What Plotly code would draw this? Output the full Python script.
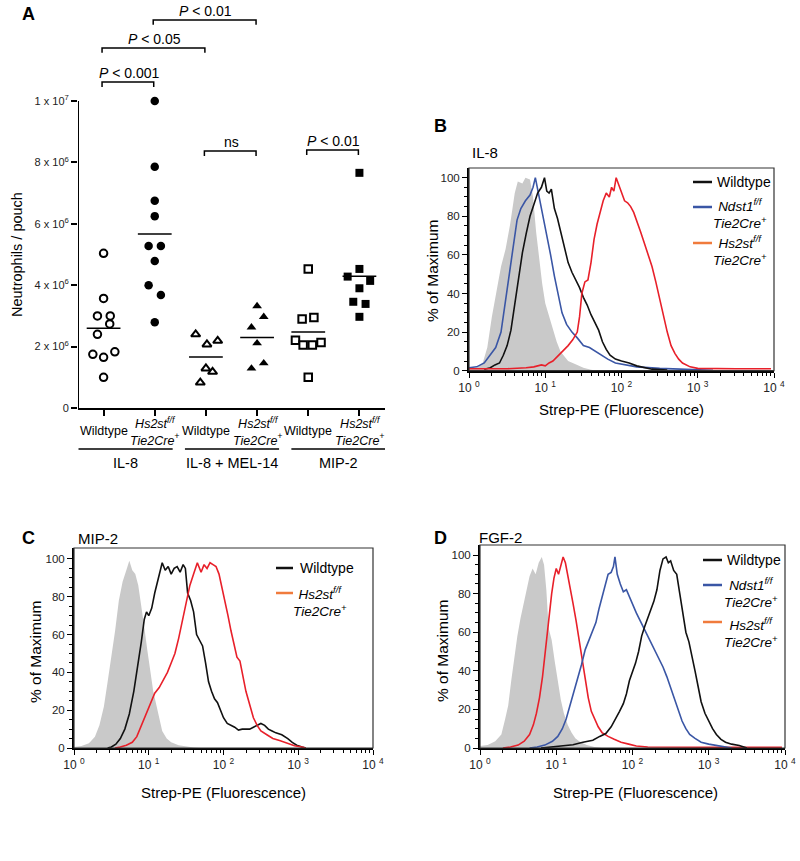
import numpy as np
import plotly.graph_objects as go

W, H = 800, 861
def px(x):
    return x / W
def py(y):
    return 1 - y / H

FONT = "Liberation Sans, Arial, sans-serif"

# ---------------- Panel A data ----------------
CAT_POS = [0, 1, 2, 3, 4, 5]
HS2_LABEL = "<i>Hs2st<sup>f/f</sup></i><br><i>Tie2Cre<sup>+</sup></i>"
CAT_LABELS = ["Wildtype", HS2_LABEL, "Wildtype", HS2_LABEL, "Wildtype", HS2_LABEL]
GROUP_LABELS = ["IL-8", "IL-8 + MEL-14", "MIP-2"]
Y_TICK_VALS = [0, 2e6, 4e6, 6e6, 8e6, 1e7]
Y_TICK_TEXT = ["0", "2 x 10<sup>6</sup>", "4 x 10<sup>6</sup>", "6 x 10<sup>6</sup>",
               "8 x 10<sup>6</sup>", "1 x 10<sup>7</sup>"]

IL8_WT = [5.04e6, 3.57e6, 3.0e6, 3.0e6, 2.74e6, 2.40e6, 1.75e6, 1.65e6, 1.83e6, 1.0e6]
IL8_WT_JIT = [0, 0, -0.12, 0.13, 0.12, -0.12, -0.21, 0, 0.22, 0]
IL8_HS2 = [10.0e6, 7.86e6, 6.75e6, 6.25e6, 5.28e6, 5.28e6, 4.79e6, 4.0e6, 3.68e6, 2.79e6]
IL8_HS2_JIT = [0, 0, 0, 0, -0.12, 0.12, 0, -0.12, 0.12, 0]
MEL_WT = [2.40e6, 2.07e6, 2.19e6, 1.29e6, 1.18e6, 0.83e6]
MEL_WT_JIT = [-0.2, 0.02, 0.23, 0, 0.13, -0.11]
MEL_HS2 = [3.32e6, 2.97e6, 2.63e6, 2.11e6, 1.46e6, 1.29e6]
MEL_HS2_JIT = [0, 0.13, -0.11, 0, 0.13, -0.11]
MIP_WT = [4.53e6, 2.90e6, 2.95e6, 2.21e6, 2.05e6, 2.05e6, 2.13e6, 1.0e6]
MIP_WT_JIT = [0, -0.12, 0.11, -0.25, -0.1, 0.08, 0.25, 0]
MIP_HS2 = [7.66e6, 4.53e6, 4.28e6, 4.14e6, 3.90e6, 3.46e6, 3.39e6, 2.97e6]
MIP_HS2_JIT = [0, 0, -0.23, 0.21, 0, -0.12, 0.12, 0]

# comparisons: (from category, to category, bracket level, label)
BRACKETS = [
    (0, 1, 1.062e7, "<i>P</i> &lt; 0.001"),
    (0, 2, 1.173e7, "<i>P</i> &lt; 0.05"),
    (1, 3, 1.264e7, "<i>P</i> &lt; 0.01"),
    (2, 3, 8.37e6, "ns"),
    (4, 5, 8.40e6, "<i>P</i> &lt; 0.01"),
]

# ---------------- Histogram data (log10 fluorescence, % of max) ----------------
B_GRAY_LX = [0.00, 0.10, 0.18, 0.24, 0.30, 0.36, 0.42, 0.48, 0.54, 0.60, 0.64, 0.70, 0.74, 0.80, 0.84,
             0.88, 0.92, 0.96, 1.00, 1.05, 1.10, 1.15, 1.20, 1.30, 1.42, 1.50, 1.60, 1.70]
B_GRAY_Y = [1, 1.5, 4, 12, 28, 42, 54, 63, 76, 92, 98, 97, 100, 99, 90,
            72, 57, 45, 35, 28, 22, 15, 10, 5, 3, 1.5, 0.5, 0]
B_BLUE_LX = [0.00, 0.10, 0.20, 0.28, 0.35, 0.42, 0.48, 0.53, 0.58, 0.63, 0.68, 0.74, 0.80, 0.84, 0.87,
             0.90, 0.94, 0.98, 1.02, 1.07, 1.12, 1.17, 1.22, 1.28, 1.35, 1.42, 1.50, 1.58, 1.66, 1.74,
             1.82, 1.92, 2.05, 2.20, 2.50, 2.80, 3.00, 3.20]
B_BLUE_Y = [1.5, 2, 4, 8, 12, 20, 36, 50, 64, 78, 84, 88, 91, 95, 100,
            94, 86, 80, 70, 60, 49, 39, 30, 24, 20, 17, 13, 12, 10, 8,
            6, 4, 3, 2, 1.2, 0.8, 0.3, 0.2]
B_BLACK_LX = [0.20, 0.28, 0.34, 0.40, 0.45, 0.50, 0.55, 0.60, 0.65, 0.70, 0.75, 0.80, 0.85, 0.90, 0.95,
              0.99, 1.02, 1.05, 1.08, 1.12, 1.16, 1.20, 1.25, 1.30, 1.35, 1.40, 1.45, 1.50, 1.55, 1.60,
              1.65, 1.70, 1.75, 1.80, 1.85, 1.92, 2.00, 2.10, 2.20, 2.30, 2.40, 2.60]
B_BLACK_Y = [0.8, 1.5, 3, 4, 8, 13, 21, 35, 49, 61, 71, 80, 86, 92, 95,
             100, 93, 92, 94, 84, 79, 72, 64, 56, 51, 47, 43, 38, 34, 29,
             25, 21, 15, 11, 8, 6, 5, 4, 2.5, 1.5, 0.8, 0.3]
B_RED_LX = [0.00, 0.50, 0.75, 0.85, 0.95, 1.00, 1.05, 1.10, 1.20, 1.30, 1.36, 1.42, 1.45, 1.48, 1.52,
            1.56, 1.60, 1.64, 1.68, 1.72, 1.76, 1.80, 1.84, 1.87, 1.90, 1.93, 1.96, 2.00, 2.04, 2.08,
            2.12, 2.16, 2.20, 2.25, 2.30, 2.35, 2.40, 2.45, 2.50, 2.55, 2.60, 2.65, 2.70, 2.75, 2.80,
            2.90, 3.00, 3.50, 3.96]
B_RED_Y = [1, 1, 1.5, 2, 3, 2.5, 4, 5, 9, 13, 16, 20, 28, 40, 46,
           47, 56, 68, 76, 82, 88, 92, 90, 95, 93, 100, 97, 92, 88, 87,
           85, 82, 78, 72, 66, 60, 54, 46, 37, 28, 20, 13, 9, 6, 4,
           2, 1.2, 1, 1]

C_GRAY_LX = [0.00, 0.10, 0.20, 0.28, 0.34, 0.40, 0.45, 0.50, 0.55, 0.60, 0.65, 0.70, 0.74, 0.78, 0.82,
             0.86, 0.90, 0.94, 0.98, 1.02, 1.06, 1.10, 1.14, 1.18, 1.24, 1.30, 1.40, 1.50, 1.60, 1.70]
C_GRAY_Y = [0.5, 1, 2.5, 6, 12, 22, 35, 48, 62, 78, 88, 94, 99, 94, 92,
            86, 76, 64, 52, 40, 30, 23, 15, 9, 5, 3, 1.5, 0.8, 0.3, 0]
C_BLACK_LX = [0.45, 0.50, 0.56, 0.62, 0.68, 0.74, 0.80, 0.85, 0.90, 0.94, 0.97, 1.00, 1.04, 1.08, 1.12,
              1.15, 1.18, 1.22, 1.26, 1.30, 1.34, 1.38, 1.42, 1.46, 1.49, 1.52, 1.56, 1.60, 1.64, 1.68,
              1.72, 1.76, 1.80, 1.84, 1.88, 1.92, 1.96, 2.00, 2.05, 2.10, 2.15, 2.20, 2.25, 2.30, 2.35,
              2.40, 2.45, 2.50, 2.55, 2.60, 2.65, 2.70, 2.78, 2.86, 2.92, 2.98, 3.05, 3.10]
C_BLACK_Y = [0, 0.5, 2, 5, 10, 18, 30, 42, 56, 68, 72, 70, 74, 82, 88,
             94, 98, 94, 96, 92, 95, 96, 93, 97, 95, 82, 78, 72, 60, 57,
             54, 45, 35, 30, 26, 24, 20, 16, 13, 12, 11, 9.5, 10, 10, 10,
             11, 12, 13, 12, 10, 9, 8, 7, 5, 3, 1.5, 0.5, 0]
C_RED_LX = [0.55, 0.62, 0.70, 0.78, 0.84, 0.90, 0.96, 1.02, 1.08, 1.14, 1.20, 1.25, 1.30, 1.35, 1.40,
            1.45, 1.50, 1.55, 1.60, 1.65, 1.70, 1.74, 1.78, 1.82, 1.86, 1.90, 1.94, 1.98, 2.02, 2.06,
            2.10, 2.14, 2.18, 2.22, 2.26, 2.30, 2.35, 2.40, 2.45, 2.50, 2.58, 2.66, 2.75, 2.85, 2.95,
            3.05, 3.10]
C_RED_Y = [0, 0.5, 1.5, 3, 6, 12, 18, 24, 29, 32, 36, 40, 45, 50, 58,
           68, 78, 86, 92, 98, 93, 97, 95, 98, 97, 96, 92, 85, 78, 70,
           62, 55, 48, 46, 38, 30, 23, 16, 12, 9, 7, 5, 4, 2.5, 1.2,
           0.5, 0]

D_GRAY_LX = [0.00, 0.10, 0.20, 0.28, 0.33, 0.37, 0.41, 0.45, 0.49, 0.53, 0.57, 0.61, 0.65, 0.69, 0.73,
             0.77, 0.81, 0.84, 0.87, 0.90, 0.94, 0.98, 1.02, 1.06, 1.10, 1.15, 1.20, 1.25, 1.30, 1.40,
             1.50, 1.60]
D_GRAY_Y = [1, 1.5, 3.5, 7, 15, 22, 35, 48, 58, 67, 75, 83, 89, 93, 90,
            96, 99, 95, 82, 62, 56, 45, 34, 25, 18, 12, 8, 5, 3.5, 1.5,
            0.5, 0]
D_RED_LX = [0.30, 0.40, 0.50, 0.58, 0.65, 0.70, 0.74, 0.78, 0.82, 0.86, 0.90, 0.94, 0.97, 1.00, 1.03,
            1.06, 1.09, 1.12, 1.15, 1.18, 1.22, 1.26, 1.30, 1.34, 1.38, 1.42, 1.46, 1.50, 1.55, 1.60,
            1.68, 1.76, 1.85, 1.95, 2.05, 2.20, 3.96]
D_RED_Y = [0, 0.5, 1.5, 3.5, 7, 12, 18, 26, 37, 52, 66, 80, 88, 93, 90,
           95, 99, 96, 90, 84, 75, 66, 56, 45, 34, 26, 19, 15, 11, 8,
           6, 4.5, 3, 2, 1, 0.5, 0.3]
D_BLUE_LX = [0.65, 0.75, 0.85, 0.95, 1.02, 1.08, 1.13, 1.18, 1.23, 1.28, 1.33, 1.38, 1.43, 1.48, 1.52,
             1.56, 1.60, 1.64, 1.68, 1.72, 1.75, 1.77, 1.80, 1.84, 1.88, 1.92, 1.96, 2.00, 2.05, 2.10,
             2.15, 2.20, 2.25, 2.30, 2.35, 2.40, 2.45, 2.50, 2.55, 2.60, 2.65, 2.70, 2.75, 2.82, 2.90,
             3.00, 3.10, 3.20, 3.30]
D_BLUE_Y = [0, 0.5, 1.5, 3.5, 6, 10, 15, 22, 29, 35, 43, 51, 56, 60, 65,
            72, 78, 85, 90, 91, 94, 99, 90, 85, 81, 82, 78, 74, 70, 66,
            62, 58, 54, 50, 46, 42, 37, 31, 25, 19, 14, 10, 7, 5, 3,
            2, 1.2, 0.5, 0]
D_BLACK_LX = [0.80, 0.95, 1.10, 1.22, 1.35, 1.48, 1.57, 1.65, 1.72, 1.78, 1.83, 1.88, 1.92, 1.96, 2.00,
              2.04, 2.08, 2.12, 2.16, 2.20, 2.24, 2.28, 2.32, 2.36, 2.40, 2.44, 2.47, 2.50, 2.54, 2.58,
              2.62, 2.66, 2.70, 2.74, 2.78, 2.82, 2.86, 2.90, 2.95, 3.00, 3.05, 3.10, 3.16, 3.22, 3.30,
              3.40, 3.45, 3.50]
D_BLACK_Y = [0, 0.5, 1, 1.7, 3, 4, 6, 7.5, 11, 15, 19, 23, 28, 35, 39,
             44, 50, 58, 63, 67, 72, 76, 82, 92, 98, 99, 96, 97, 92, 90,
             80, 71, 60, 55, 48, 40, 32, 24, 18, 14, 10, 7, 4.5, 3, 2,
             1.3, 0.5, 0]

LOG_TICKS = [0, 1, 2, 3, 4]
PCT_TICKS = [0, 20, 40, 60, 80, 100]

BLACK = "#111111"
BLUE = "#3a56a5"
RED = "#e8202a"
ORANGE = "#f07b3c"
GRAY = "#c9c9c9"

fig = go.Figure()

# ---------------- Panel A ----------------
series_A = [
    (0, IL8_WT, IL8_WT_JIT, "circle", False),
    (1, IL8_HS2, IL8_HS2_JIT, "circle", True),
    (2, MEL_WT, MEL_WT_JIT, "triangle-up", False),
    (3, MEL_HS2, MEL_HS2_JIT, "triangle-up", True),
    (4, MIP_WT, MIP_WT_JIT, "square", False),
    (5, MIP_HS2, MIP_HS2_JIT, "square", True),
]
for cat, vals, jit, sym, filled in series_A:
    xs = [CAT_POS[cat] + j for j in jit]
    if filled:
        marker = dict(symbol=sym, size=8.5 if sym != "square" else 8, color="black",
                      line=dict(width=0))
    else:
        marker = dict(symbol=sym, size=7.5 if sym != "triangle-up" else 8, color="white",
                      line=dict(width=2, color="black"))
    fig.add_trace(go.Scatter(x=xs, y=vals, mode="markers", marker=marker,
                             xaxis="x", yaxis="y", showlegend=False, hoverinfo="skip"))
    m = float(np.mean(vals))
    fig.add_trace(go.Scatter(x=[CAT_POS[cat] - 0.33, CAT_POS[cat] + 0.33], y=[m, m],
                             mode="lines", line=dict(color="black", width=1.6),
                             xaxis="x", yaxis="y", showlegend=False, hoverinfo="skip"))

shapes = []
annotations = []

# y axis line of panel A (0 .. 1e7 only)
shapes.append(dict(type="line", xref="x", yref="y", x0=-0.5, x1=-0.5, y0=0, y1=Y_TICK_VALS[-1],
                   line=dict(color="black", width=2)))

# brackets
drop = 1.6e5
for a, b, lvl, lab in BRACKETS:
    shapes.append(dict(type="path", xref="x", yref="y",
                       path=f"M {CAT_POS[a]-0.03},{lvl-drop} L {CAT_POS[a]-0.03},{lvl} "
                            f"L {CAT_POS[b]-0.02},{lvl} L {CAT_POS[b]-0.02},{lvl-drop}",
                       line=dict(color="black", width=1.5)))
    annotations.append(dict(x=(CAT_POS[a] + CAT_POS[b]) / 2, y=lvl, xref="x", yref="y",
                            text=lab, showarrow=False, yanchor="bottom", yshift=-1,
                            font=dict(size=14, color="black", family=FONT)))

# category labels
for c, lab in zip(CAT_POS, CAT_LABELS):
    annotations.append(dict(x=c, y=py(431), xref="x", yref="paper", text=lab, showarrow=False,
                            xanchor="center", yanchor="middle",
                            font=dict(size=12.5, color="black", family=FONT)))

# group lines and labels
for i, g in enumerate(GROUP_LABELS):
    x0 = CAT_POS[2 * i] - 0.49 + 0.08 * i
    x1 = x0 + 1.84
    shapes.append(dict(type="line", xref="x", yref="paper", x0=x0, x1=x1, y0=py(449), y1=py(449),
                       line=dict(color="black", width=1.5)))
    annotations.append(dict(x=(x0 + x1) / 2, y=py(463), xref="x", yref="paper", text=g,
                            showarrow=False, xanchor="center", yanchor="middle",
                            font=dict(size=14.5, color="black", family=FONT)))

annotations.append(dict(x=px(17), y=py(255), xref="paper", yref="paper", text="Neutrophils / pouch",
                        textangle=-90, showarrow=False, xanchor="center", yanchor="middle",
                        font=dict(size=14.5, color="black", family=FONT)))

# ---------------- Histogram panels ----------------
def add_curve(lx, yv, color, ax, fill=False):
    xv = [10 ** v for v in lx]
    if fill:
        fig.add_trace(go.Scatter(x=xv, y=yv, mode="lines", fill="tozeroy", fillcolor=GRAY,
                                 line=dict(width=0, color=GRAY), xaxis=f"x{ax}", yaxis=f"y{ax}",
                                 showlegend=False, hoverinfo="skip"))
    else:
        fig.add_trace(go.Scatter(x=xv, y=yv, mode="lines", line=dict(width=1.6, color=color),
                                 xaxis=f"x{ax}", yaxis=f"y{ax}", showlegend=False, hoverinfo="skip"))

add_curve(B_GRAY_LX, B_GRAY_Y, GRAY, 2, fill=True)
add_curve(B_BLUE_LX, B_BLUE_Y, BLUE, 2)
add_curve(B_BLACK_LX, B_BLACK_Y, BLACK, 2)
add_curve(B_RED_LX, B_RED_Y, RED, 2)

add_curve(C_GRAY_LX, C_GRAY_Y, GRAY, 3, fill=True)
add_curve(C_BLACK_LX, C_BLACK_Y, BLACK, 3)
add_curve(C_RED_LX, C_RED_Y, RED, 3)

add_curve(D_GRAY_LX, D_GRAY_Y, GRAY, 4, fill=True)
add_curve(D_RED_LX, D_RED_Y, RED, 4)
add_curve(D_BLUE_LX, D_BLUE_Y, BLUE, 4)
add_curve(D_BLACK_LX, D_BLACK_Y, BLACK, 4)

minor_x = [k * 10 ** d for d in range(4) for k in range(2, 10)]
minor_y = [v for v in range(5, 101, 5) if v % 20 != 0]

def hist_xaxis(dom, anchor):
    return dict(domain=dom, anchor=anchor, type="log", range=[0, 4], automargin=False,
                tickmode="array", tickvals=[10 ** v for v in LOG_TICKS],
                ticktext=[f"10 <sup>{v}</sup>" for v in LOG_TICKS],
                ticks="outside", ticklen=5, tickwidth=1.3, tickcolor="black",
                tickfont=dict(size=12, color="#222", family=FONT),
                minor=dict(tickmode="array", tickvals=minor_x, ticks="outside", ticklen=3,
                           tickwidth=1, tickcolor="black", showgrid=False),
                showline=True, linewidth=2, linecolor="black", showgrid=False, zeroline=False)

def hist_yaxis(dom, anchor, top):
    return dict(domain=dom, anchor=anchor, range=[0, top], tickmode="array", tickvals=PCT_TICKS,
                automargin=False,
                ticks="outside", ticklen=5, tickwidth=1.3, tickcolor="black",
                tickfont=dict(size=11.5, color="#222", family=FONT),
                minor=dict(tickmode="array", tickvals=minor_y, ticks="outside", ticklen=3,
                           tickwidth=1, tickcolor="black", showgrid=False),
                showline=True, linewidth=2, linecolor="black", showgrid=False, zeroline=False)

for ax in ["x2", "x3", "x4"]:
    shapes.append(dict(type="rect", xref=f"{ax} domain", yref=f"y{ax[1]} domain",
                       x0=0, x1=1, y0=0, y1=1, line=dict(color="#333", width=1.2)))

def text(x, y, s, size=15, xanchor="left", angle=0, bold=False):
    if bold:
        s = f"<b>{s}</b>"
    annotations.append(dict(x=px(x), y=py(y), xref="paper", yref="paper", text=s, showarrow=False,
                            xanchor=xanchor, yanchor="middle", textangle=angle,
                            font=dict(size=size, color="black", family=FONT)))

def leg_line(x0, x1, y, color):
    shapes.append(dict(type="line", xref="paper", yref="paper", x0=px(x0), x1=px(x1),
                       y0=py(y), y1=py(y), line=dict(color=color, width=2.5)))

NDST_LABEL = "<i>Ndst1<sup>f/f</sup></i><br><i>Tie2Cre<sup>+</sup></i>"

# panel letters
text(20, 14, "A", 18, bold=True)
text(432, 126, "B", 18, bold=True)
text(20, 538, "C", 18, bold=True)
text(432, 538, "D", 18, bold=True)

# panel titles
text(470, 153, "IL-8")
text(76, 538, "MIP-2")
text(477, 537, "FGF-2")

# axis titles
for (xc, yc) in [(621, 409), (223, 792), (635, 792)]:
    text(xc, yc, "Strep-PE (Fluorescence)", 15, xanchor="center")
for (xc, yc) in [(432, 271), (35, 652), (442, 651)]:
    text(xc, yc, "% of Maximum", 15.5, xanchor="center", angle=-90)

LEG = 13.5
# legends B
leg_line(693, 712, 182, BLACK); text(715, 182, "Wildtype", 14)
leg_line(693, 712, 207, BLUE); text(740, 214, NDST_LABEL, LEG, xanchor="center")
leg_line(693, 712, 243, ORANGE); text(740, 250, HS2_LABEL, LEG, xanchor="center")
# legends C
leg_line(276, 293, 568, BLACK); text(298, 568, "Wildtype", 14)
leg_line(276, 293, 593, ORANGE); text(320, 601, HS2_LABEL, LEG, xanchor="center")
# legends D
leg_line(703, 722, 560, BLACK); text(725, 560, "Wildtype", 14)
leg_line(703, 722, 585, BLUE); text(751, 592, NDST_LABEL, LEG, xanchor="center")
leg_line(703, 722, 622, ORANGE); text(751, 632, HS2_LABEL, LEG, xanchor="center")

fig.update_layout(
    width=W, height=H, margin=dict(l=0, r=0, t=0, b=0, pad=0, autoexpand=False),
    paper_bgcolor="white", plot_bgcolor="white",
    font=dict(family=FONT, color="black"),
    showlegend=False,
    xaxis=dict(domain=[px(78), px(385)], range=[-0.5, 5.5], anchor="y", automargin=False,
               tickmode="array", tickvals=CAT_POS, showticklabels=False,
               ticks="outside", ticklen=6, tickwidth=1.5, tickcolor="black",
               showline=True, linewidth=2, linecolor="black", showgrid=False, zeroline=False),
    yaxis=dict(domain=[py(408), py(3)], range=[0, 1e7 * (408 - 3) / 307], anchor="x",
               automargin=False,
               tickmode="array", tickvals=Y_TICK_VALS, ticktext=Y_TICK_TEXT,
               ticks="outside", ticklen=6, tickwidth=1.5, tickcolor="black",
               tickfont=dict(size=11, color="#222", family=FONT),
               showline=False, showgrid=False, zeroline=False),
    xaxis2=hist_xaxis([px(469), px(774)], "y2"),
    yaxis2=hist_yaxis([py(370.7), py(168)], "x2", 105),
    xaxis3=hist_xaxis([px(74), px(373)], "y3"),
    yaxis3=hist_yaxis([py(748), py(548)], "x3", 105.8),
    xaxis4=hist_xaxis([px(480), px(785)], "y4"),
    yaxis4=hist_yaxis([py(748), py(545)], "x4", 105.2),
    shapes=shapes,
    annotations=annotations,
)

fig.write_html("out.html", config={"displayModeBar": False},
               post_script="document.body.style.margin='0';document.body.style.padding='0';"
                           "document.body.style.overflow='hidden';")
